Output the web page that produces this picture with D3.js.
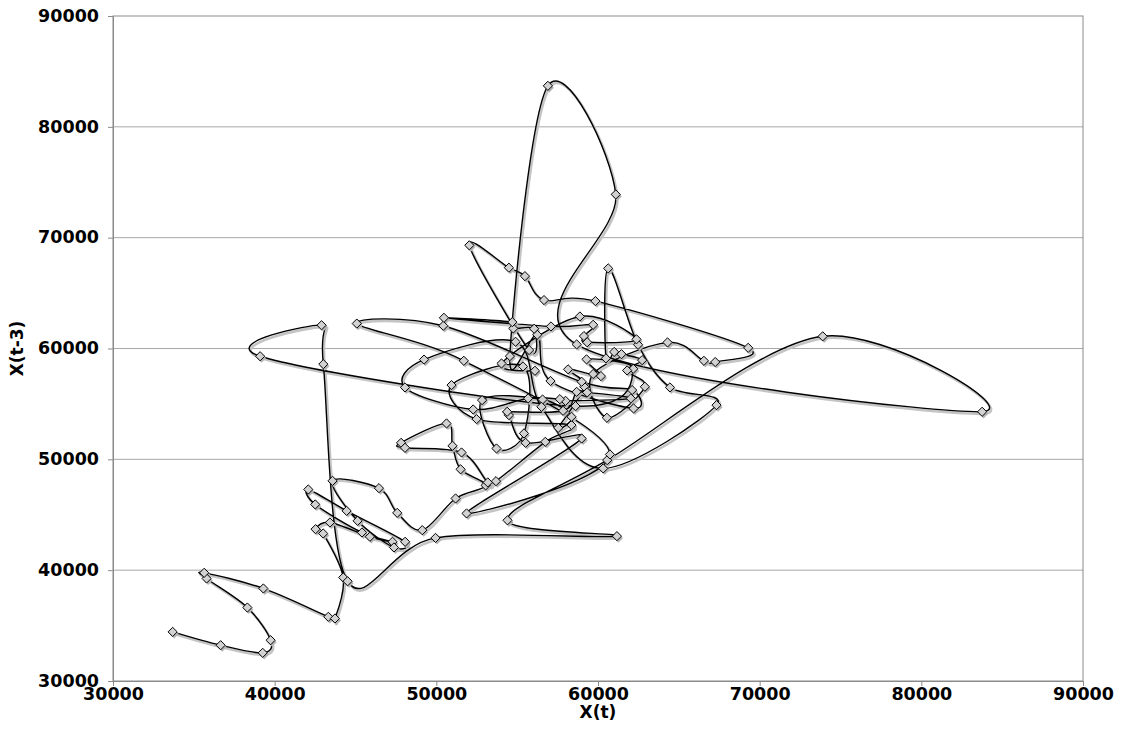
<!DOCTYPE html>
<html><head><meta charset="utf-8">
<script src="https://cdn.jsdelivr.net/npm/d3@7"></script>
<style>body{margin:0;background:#fff;}</style>
</head><body>
<svg id="c" width="1122" height="750"></svg>
<script>
// X(t) values of the points, in time order
const xt = [33690,36660,39260,39750,38310,35790,35640,39300,43320,43730,
 44240,43000,42530,43420,45890,47290,45400,42510,42080,44450,
 48070,47380,45130,43580,46450,47580,49130,51190,53050,51500,
 51000,50630,47820,48060,51560,53180,53690,56740,58360,52490,
 50940,55360,55420,53720,52830,56570,58360,57540,59150,58150,
 60180,59290,62180,58610,39100,42900,43010,44510,49950,61170,
 54400,60570,73900,83760,58680,61100,56900,54550,56240,57060,
 62200,62110,58990,50430,45080,51700,60740,51870,
 58990,55520,54490,54380,57840,58680,59330,62030,57990,57640,
 55680,52280,48060,49240,54900,56500,60320,67330,64450,62480,
 60630,60490,61000,61450,62730,61800,62900,60550,59700,64300,
 66550,67250,69290,59840,56660,55480,54490,52040,55740,56050,
 54760,54700,50470,57090,59700,59130,59330,62380,58880,54030,56100];
// X(t-3) values of the same points
const xt3 = [34430,33230,32540,33680,36630,39250,39760,38350,35790,35640,
 39340,43310,43700,44300,43010,42560,43400,45930,47280,45350,
 42560,42050,44450,48060,47400,45170,43610,46470,47650,49100,
 51220,53240,51490,51040,50620,47920,48030,51580,53090,53630,
 56700,58380,52340,50980,55340,55400,53840,52840,56550,58120,
 57510,59020,58170,54800,59300,62100,58590,39000,42910,43070,
 44500,49930,61100,54290,60370,73900,83700,59310,61240,57070,
 54590,56250,57000,62050,62250,58890,50440,45120,
 51880,51490,53990,54290,54380,56090,56040,55500,55280,55430,
 55500,54500,56490,59000,60610,54740,49180,54890,56490,60340,
 67230,59110,59690,59490,58950,58020,56550,53750,57700,60550,
 58890,58780,60060,64280,64370,66530,67290,69310,59860,61780,
 61810,62380,62770,61990,62140,61120,60560,60830,62890,58650,57990];
const xTicks = [30000,40000,50000,60000,70000,80000,90000];
const yTicks = [30000,40000,50000,60000,70000,80000,90000];

const pts = xt.map((v,i)=>[v,xt3[i]]);
const svg=d3.select("#c");
const L=113,R=1083,T=16,B=681;
const x=d3.scaleLinear().domain([30000,90000]).range([L,R]);
const y=d3.scaleLinear().domain([30000,90000]).range([B,T]);
const font="'DejaVu Sans', Verdana, sans-serif";

svg.append("g").selectAll("line").data(yTicks.slice(1,-1)).join("line")
 .attr("x1",L).attr("x2",R).attr("y1",d=>y(d)).attr("y2",d=>y(d))
 .attr("stroke","#a8a8a8").attr("stroke-width",1);
svg.append("rect").attr("x",L).attr("y",T).attr("width",R-L).attr("height",B-T)
 .attr("fill","none").attr("stroke","#8a8a8a").attr("stroke-width",1);

const gx=svg.append("g").attr("transform",`translate(0,${B})`)
 .call(d3.axisBottom(x).tickValues(xTicks).tickSize(5).tickFormat(d3.format("d")));
const gy=svg.append("g").attr("transform",`translate(${L},0)`)
 .call(d3.axisLeft(y).tickValues(yTicks).tickSize(5).tickFormat(d3.format("d")));
[gx,gy].forEach(g=>{g.select(".domain").attr("stroke","#8a8a8a");
 g.selectAll(".tick line").attr("stroke","#8a8a8a");
 g.selectAll("text").attr("font-family",font).attr("font-weight","bold").attr("font-size",17.5).attr("fill","#000");});
gx.selectAll("text").attr("y",0).attr("dy",0).attr("transform","translate(0,19)");
gy.selectAll("text").attr("x",-14).attr("dy","0.3em");

svg.append("text").attr("x",(L+R)/2).attr("y",718).attr("text-anchor","middle")
 .attr("font-family",font).attr("font-weight","bold").attr("font-size",17).text("X(t)");
svg.append("text").attr("transform",`translate(23,${(T+B)/2}) rotate(-90)`).attr("text-anchor","middle")
 .attr("font-family",font).attr("font-weight","bold").attr("font-size",17).text("X(t-3)");

const line=d3.line().x(d=>x(d[0])).y(d=>y(d[1])).curve(d3.curveCatmullRom.alpha(0));
const plot=svg.append("g");
plot.append("path").attr("d",line(pts)).attr("fill","none").attr("stroke","#c4c4c4")
 .attr("stroke-width",2.6).attr("transform","translate(1.5,2)");
plot.append("path").attr("d",line(pts)).attr("fill","none").attr("stroke","#000").attr("stroke-width",1.4);
const dia="M0,-4.6L4.6,0L0,4.6L-4.6,0Z";
plot.append("g").selectAll("path").data(pts).join("path").attr("d",dia)
 .attr("transform",d=>`translate(${x(d[0])+1.5},${y(d[1])+2})`).attr("fill","#b5b5b5");
plot.append("g").selectAll("path").data(pts).join("path").attr("d",dia)
 .attr("transform",d=>`translate(${x(d[0])},${y(d[1])})`).attr("fill","#d2d2d2").attr("stroke","#000").attr("stroke-width",1);
</script>
</body></html>
